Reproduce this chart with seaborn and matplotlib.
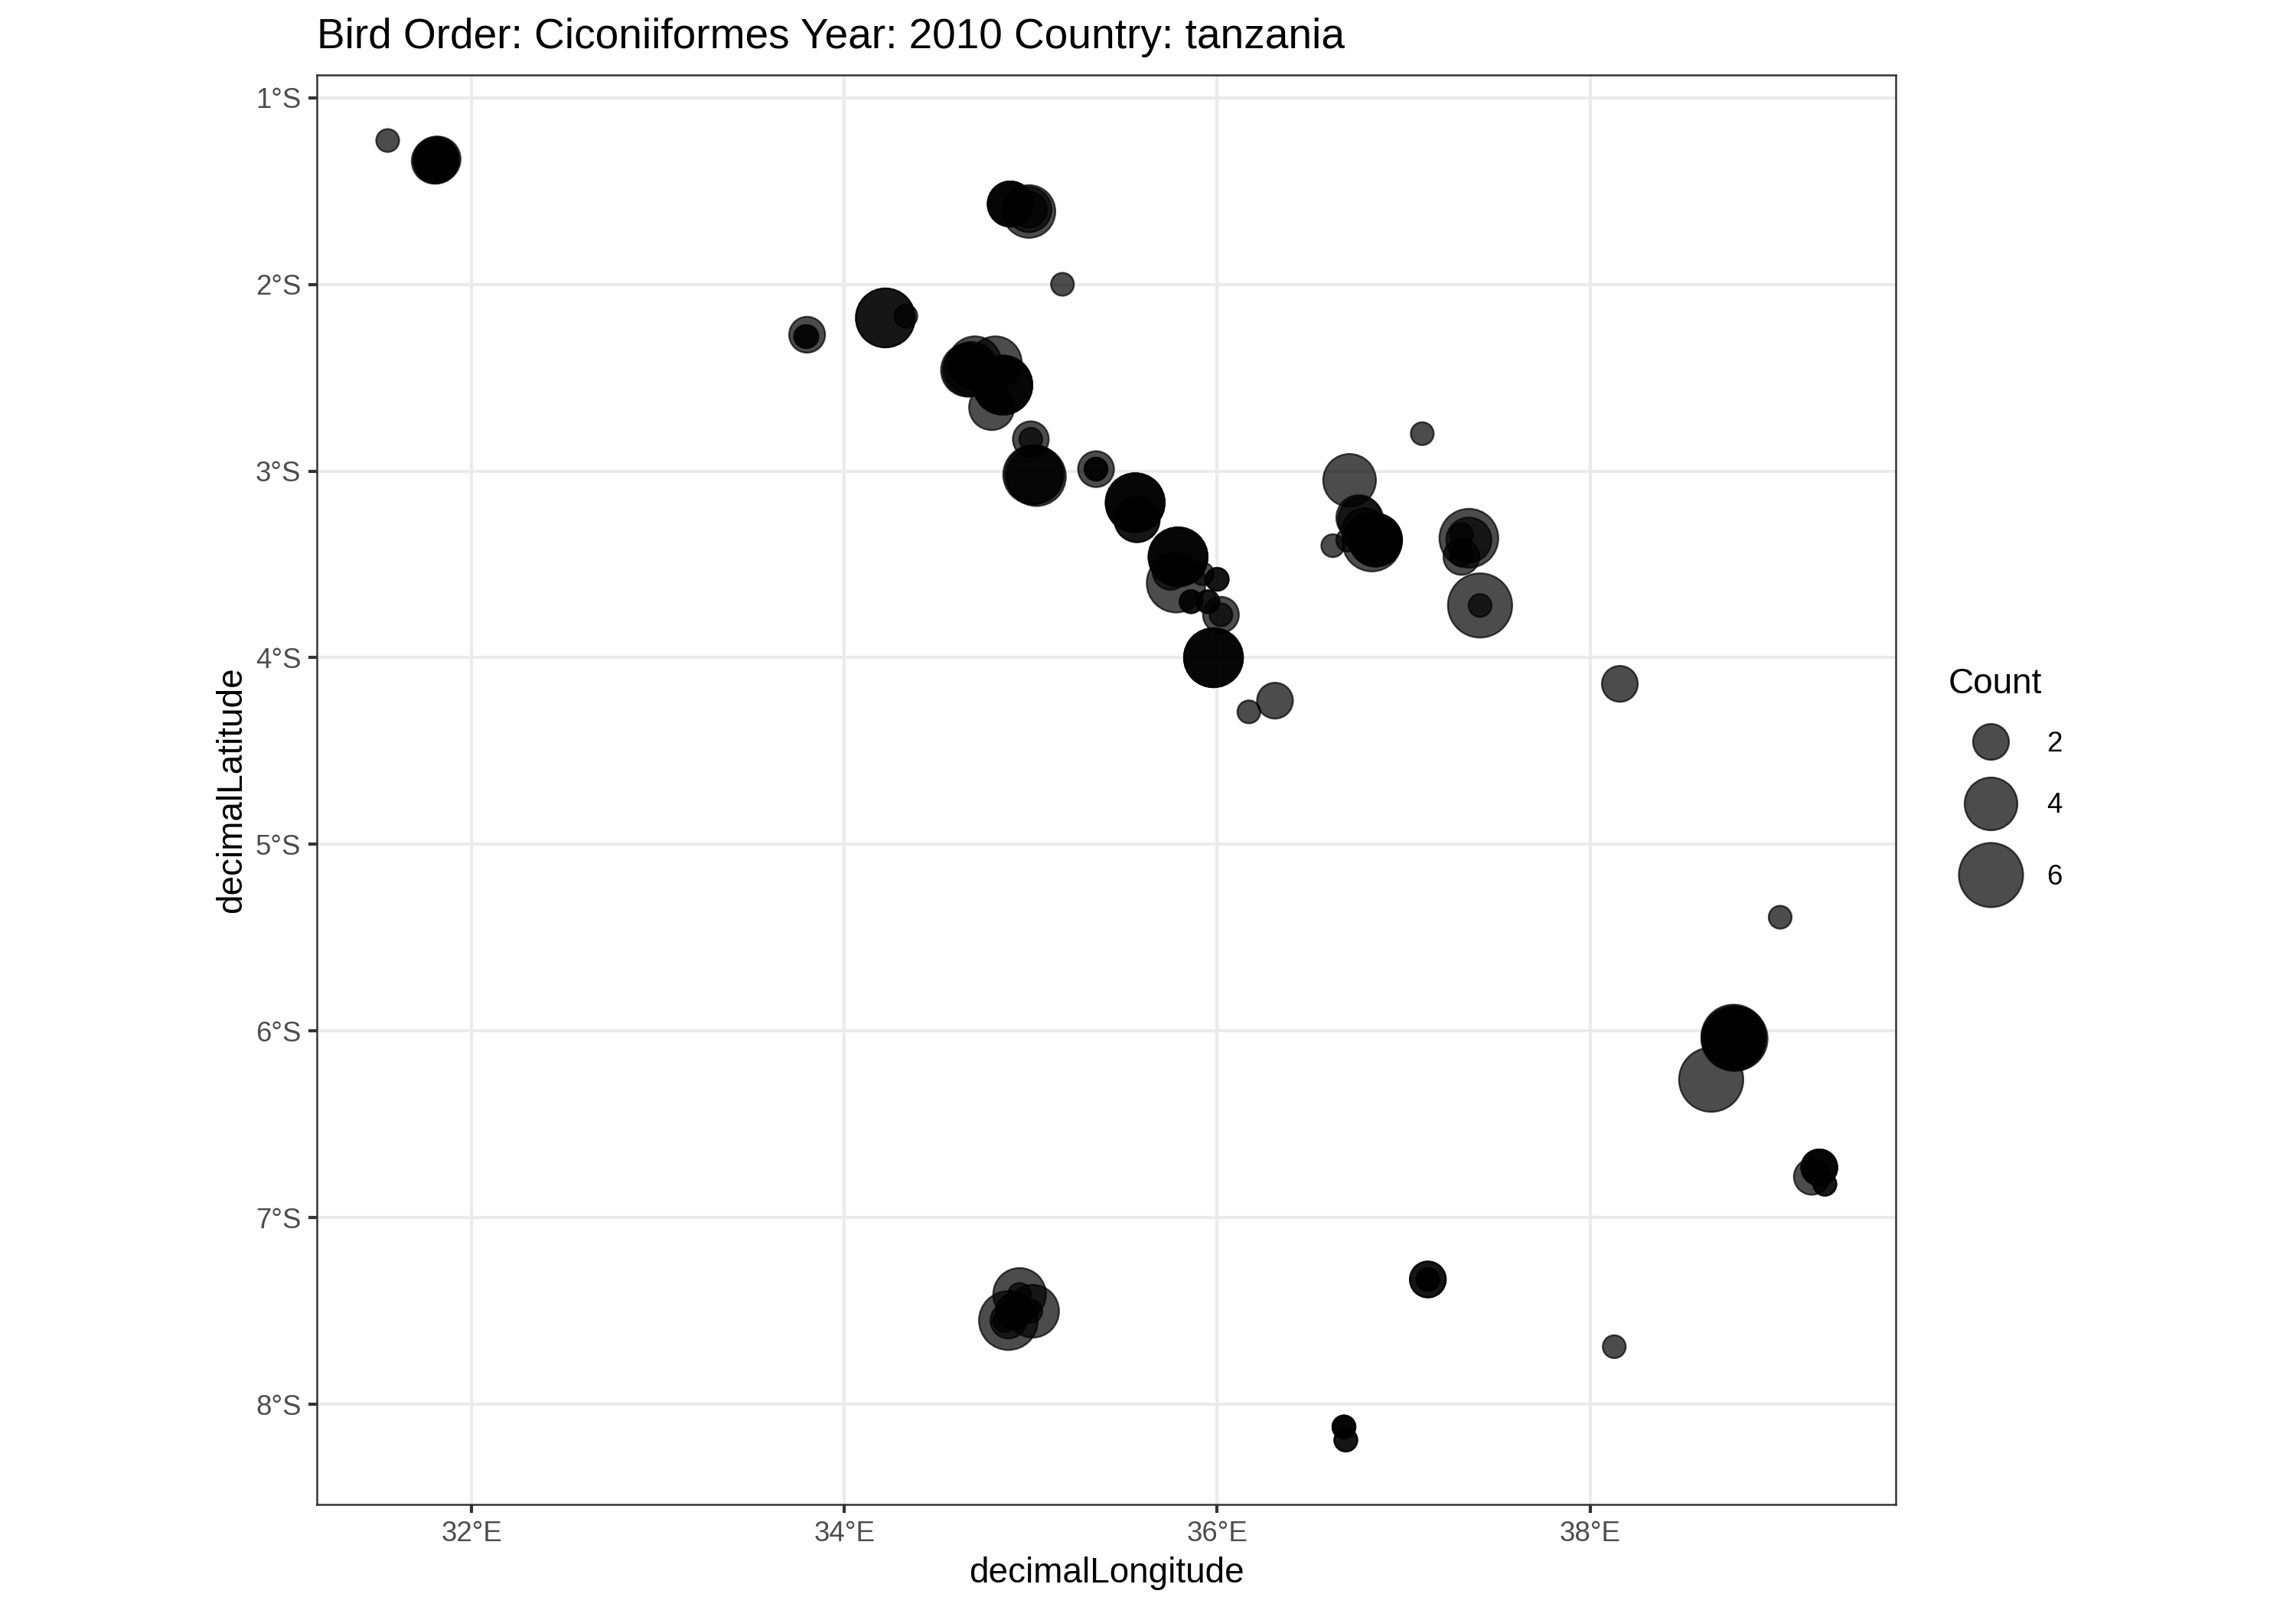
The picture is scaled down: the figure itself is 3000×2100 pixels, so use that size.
import matplotlib
matplotlib.use("Agg")
import matplotlib.pyplot as plt
import pandas as pd
import seaborn as sns

# occurrence points, drawing order matters for the overlaps
lons = [31.55, 31.81, 31.80, 31.81, 31.82,
        34.99, 34.99, 34.99, 34.89, 34.89, 34.89,
        35.17, 34.22, 34.33, 34.22,
        33.80, 33.80, 33.79,
        34.79, 34.67, 34.66, 34.68, 34.70, 34.81, 34.85, 34.85, 34.85,
        35.00, 35.00, 35.02, 35.01, 35.03,
        35.35, 35.35, 35.35,
        35.57, 35.57, 35.56, 35.56, 35.56,
        35.78, 35.75, 35.92, 35.79, 35.79, 35.79,
        36.00, 36.00, 35.86, 35.86, 36.02, 36.02, 35.95, 35.95,
        35.98, 35.98, 35.98, 36.31, 36.17,
        37.10, 36.71, 36.62, 36.70, 36.76, 36.77, 36.83, 36.79, 36.85, 36.85, 36.85,
        37.35, 37.35, 37.31, 37.31, 37.31, 37.41, 37.41,
        38.16, 39.02, 38.65, 38.77, 38.78, 38.77, 38.77,
        39.19, 39.26, 39.26, 39.23, 39.23, 39.23,
        37.13, 37.13, 37.13, 37.13, 38.13,
        36.68, 36.68, 36.68, 36.69, 36.69,
        34.94, 35.01, 34.88, 34.88, 34.86, 34.94, 35.00, 34.93, 34.91]
lats = [-1.23, -1.33, -1.34, -1.34, -1.33,
        -1.61, -1.60, -1.60, -1.57, -1.57, -1.57,
        -2.00, -2.18, -2.17, -2.18,
        -2.27, -2.28, -2.28,
        -2.66, -2.46, -2.46, -2.45, -2.42, -2.42, -2.54, -2.54, -2.54,
        -2.83, -2.83, -3.02, -3.02, -3.03,
        -2.99, -2.99, -2.99,
        -3.26, -3.26, -3.17, -3.17, -3.17,
        -3.60, -3.54, -3.55, -3.46, -3.46, -3.46,
        -3.58, -3.58, -3.70, -3.70, -3.77, -3.77, -3.70, -3.70,
        -4.00, -4.00, -4.00, -4.23, -4.29,
        -2.80, -3.05, -3.40, -3.37, -3.25, -3.26, -3.38, -3.32, -3.37, -3.37, -3.37,
        -3.36, -3.37, -3.34, -3.46, -3.45, -3.72, -3.72,
        -4.14, -5.39, -6.26, -6.03, -6.04, -6.04, -6.04,
        -6.78, -6.82, -6.82, -6.73, -6.73, -6.73,
        -7.33, -7.33, -7.33, -7.33, -7.69,
        -8.12, -8.12, -8.12, -8.19, -8.19,
        -7.41, -7.50, -7.55, -7.55, -7.55, -7.41, -7.50, -7.47, -7.50]
counts = [1, 3, 3, 3, 3,
          4, 3, 2, 3, 3, 3,
          1, 5, 1, 5,
          2, 1, 1,
          3, 4, 4, 4, 4, 4, 5, 5, 5,
          2, 1, 5, 5, 5,
          2, 1, 1,
          3, 3, 5, 5, 5,
          5, 2, 1, 5, 5, 5,
          1, 1, 1, 1, 2, 1, 1, 1,
          5, 5, 5, 2, 1,
          1, 4, 1, 1, 3, 3, 5, 3, 4, 4, 4,
          5, 3, 1, 2, 1, 6, 1,
          2, 1, 6, 6, 6, 6, 5,
          2, 1, 1, 2, 2, 2,
          2, 2, 1, 1, 1,
          1, 1, 1, 1, 1,
          4, 4, 5, 2, 1, 1, 1, 1, 2]

x_ticks = [32, 34, 36, 38]
x_labels = ["32°E", "34°E", "36°E", "38°E"]
y_ticks = [-1, -2, -3, -4, -5, -6, -7, -8]
y_labels = ["1°S", "2°S", "3°S", "4°S", "5°S", "6°S", "7°S", "8°S"]
legend_counts = ["2", "4", "6"]

# marker diameter in output pixels for each count (300 dpi)
size_px = {1: 30, 2: 47, 3: 59, 4: 69, 5: 77, 6: 84}
sizes = {k: (v * 72 / 300) ** 2 for k, v in size_px.items()}

df = pd.DataFrame({"decimalLongitude": lons, "decimalLatitude": lats, "Count": counts})

sns.set_theme(style="whitegrid")
plt.rcParams["font.family"] = ["Liberation Sans", "DejaVu Sans"]

W, H = 3000, 2100
fig = plt.figure(figsize=(10, 7), dpi=300, facecolor="white")
ax = fig.add_axes([414 / W, 1 - 1966 / H, (2477 - 414) / W, (1966 - 98) / H])

sns.scatterplot(data=df, x="decimalLongitude", y="decimalLatitude", size="Count", sizes=sizes,
                color="black", edgecolor="black", linewidth=0.55, alpha=0.7, legend="full",
                zorder=3, ax=ax)

ax.set_xlim(31.17, 39.64)
ax.set_ylim(-8.535, -0.879)
ax.set_xticks(x_ticks, x_labels)
ax.set_yticks(y_ticks, y_labels)
ax.grid(True, color="#EBEBEB", linewidth=1.0)
ax.set_axisbelow(True)
ax.tick_params(axis="both", length=2.75, width=1.0, color="#333333", labelcolor="#4D4D4D",
               labelsize=8.8, pad=2.2, left=True, bottom=True)
for spine in ax.spines.values():
    spine.set_color("#333333")
    spine.set_linewidth(0.6)
ax.set_xlabel("decimalLongitude", fontsize=11, color="black", labelpad=3)
ax.set_ylabel("decimalLatitude", fontsize=11, color="black", labelpad=2)
ax.set_title("Bird Order: Ciconiiformes Year: 2010 Country: tanzania", loc="left",
             fontsize=13.2, color="black", pad=8.4)

# one legend per row, ggplot spaces the keys by their own size
handles, labels = ax.get_legend_handles_labels()
ax.get_legend().remove()
lookup = dict(zip(labels, handles))
row_y = [972, 1053, 1146]
for lab, y in zip(legend_counts, row_y):
    fig.legend(handles=[lookup[lab]], labels=[lab], loc="center left", frameon=False,
               bbox_to_anchor=(2654.5 / W - 0.03, 1 - y / H), fontsize=8.8, borderpad=0,
               borderaxespad=0, handlelength=2.0, handletextpad=1.0, labelcolor="black")
fig.text(2546 / W, 1 - 894 / H, "Count", fontsize=11, color="black", ha="left", va="center")

fig.savefig("out.png", dpi=300)
